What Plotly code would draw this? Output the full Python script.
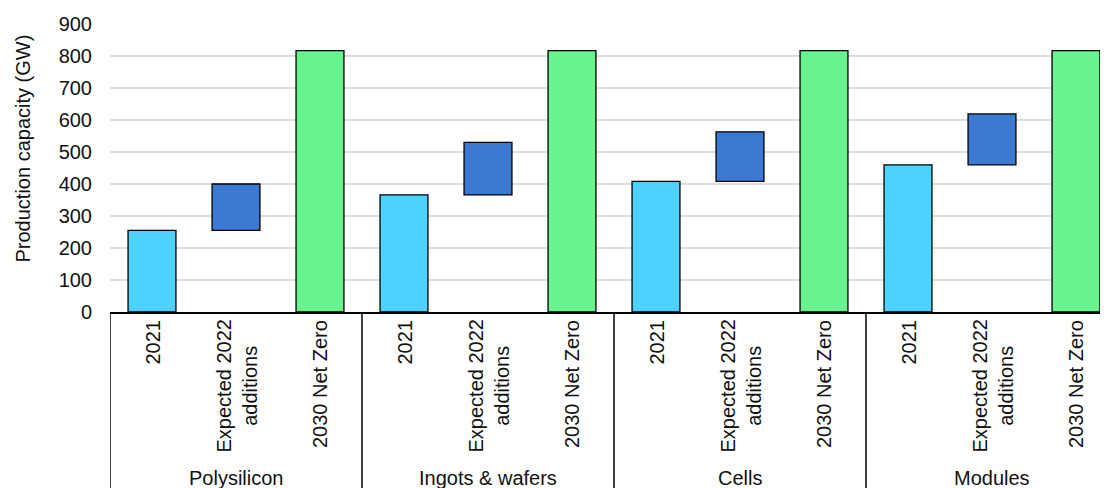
import plotly.graph_objects as go

# ---- data ----
groups = ["Polysilicon", "Ingots & wafers", "Cells", "Modules"]
categories = ["2021", "Expected 2022<br>additions", "2030 Net Zero"]
cap_2021 = [255, 366, 408, 460]
add_2022 = [145, 164, 155, 159]
net_zero_2030 = [817, 817, 817, 817]
y_ticks = [0, 100, 200, 300, 400, 500, 600, 700, 800, 900]
y_title = "Production capacity (GW)"

colors = ["#4dd2ff", "#3c79d2", "#68f38f"]
FONT = "Liberation Sans, Arial, sans-serif"
TXT = "#111111"

n_cat = len(categories)
x_2021 = [g * n_cat + 0 for g in range(len(groups))]
x_add = [g * n_cat + 1 for g in range(len(groups))]
x_nz = [g * n_cat + 2 for g in range(len(groups))]

# page body has an 8px margin, so the figure is offset by 8px in the window
OFF = 8
W, H = 1100, 480
m_l, m_r, m_t, m_b = 102, 0, 16, 176
plot_h = H - m_t - m_b
plot_w = W - m_l - m_r

fig = go.Figure()
line = dict(color="#000000", width=1.3)
bw = 0.57
fig.add_trace(go.Bar(x=x_2021, y=cap_2021, width=bw, marker=dict(color=colors[0], line=line), name="2021"))
fig.add_trace(go.Bar(x=x_add, y=add_2022, base=cap_2021, width=bw, marker=dict(color=colors[1], line=line), name="Expected 2022 additions"))
fig.add_trace(go.Bar(x=x_nz, y=net_zero_2030, width=bw, marker=dict(color=colors[2], line=line), name="2030 Net Zero"))

def vy(py):
    """window pixel y -> paper y"""
    return (H - m_b - (py - OFF)) / plot_h

def vx(px):
    """window pixel x -> paper x"""
    return ((px - OFF) - m_l) / plot_w

annotations = []
for g in range(len(groups)):
    for k, c in enumerate(categories):
        annotations.append(dict(
            x=g * n_cat + k, y=vy(318), xref="x", yref="paper",
            text=c, textangle=-90, showarrow=False, xanchor="center", yanchor="top",
            align="center", font=dict(family=FONT, size=20, color=TXT)))
    annotations.append(dict(
        x=g * n_cat + (n_cat - 1) / 2, y=vy(478), xref="x", yref="paper",
        text=groups[g], showarrow=False, xanchor="center", yanchor="middle",
        font=dict(family=FONT, size=20, color=TXT)))

annotations.append(dict(
    x=vx(22), y=vy(148.5), xref="paper", yref="paper",
    text=y_title, textangle=-90, showarrow=False, xanchor="center", yanchor="middle",
    font=dict(family=FONT, size=20, color=TXT)))

shapes = []
for g in range(len(groups)):
    xb = g * n_cat - 0.5
    shapes.append(dict(type="line", xref="x", yref="paper", x0=xb, x1=xb,
                       y0=0, y1=vy(H + OFF + 4), line=dict(color="#000000", width=1.5)))

cat_px = 84
x_max = -0.5 + plot_w / cat_px

fig.update_layout(
    width=W, height=H,
    margin=dict(l=m_l, r=m_r, t=m_t, b=m_b),
    plot_bgcolor="#ffffff", paper_bgcolor="#ffffff",
    barmode="overlay", showlegend=False,
    font=dict(family=FONT, size=20, color=TXT),
    xaxis=dict(range=[-0.5, x_max], showticklabels=False, showgrid=False, zeroline=False,
               showline=True, linecolor="#000000", linewidth=2, ticks=""),
    yaxis=dict(range=[0, 900], tickvals=y_ticks, showgrid=True, gridcolor="#dddddd", gridwidth=1.5,
               zeroline=False, showline=False, ticks="", ticklabelstandoff=17,
               tickfont=dict(family=FONT, size=20, color=TXT)),
    annotations=annotations, shapes=shapes,
)

fig.write_html("out.html")
